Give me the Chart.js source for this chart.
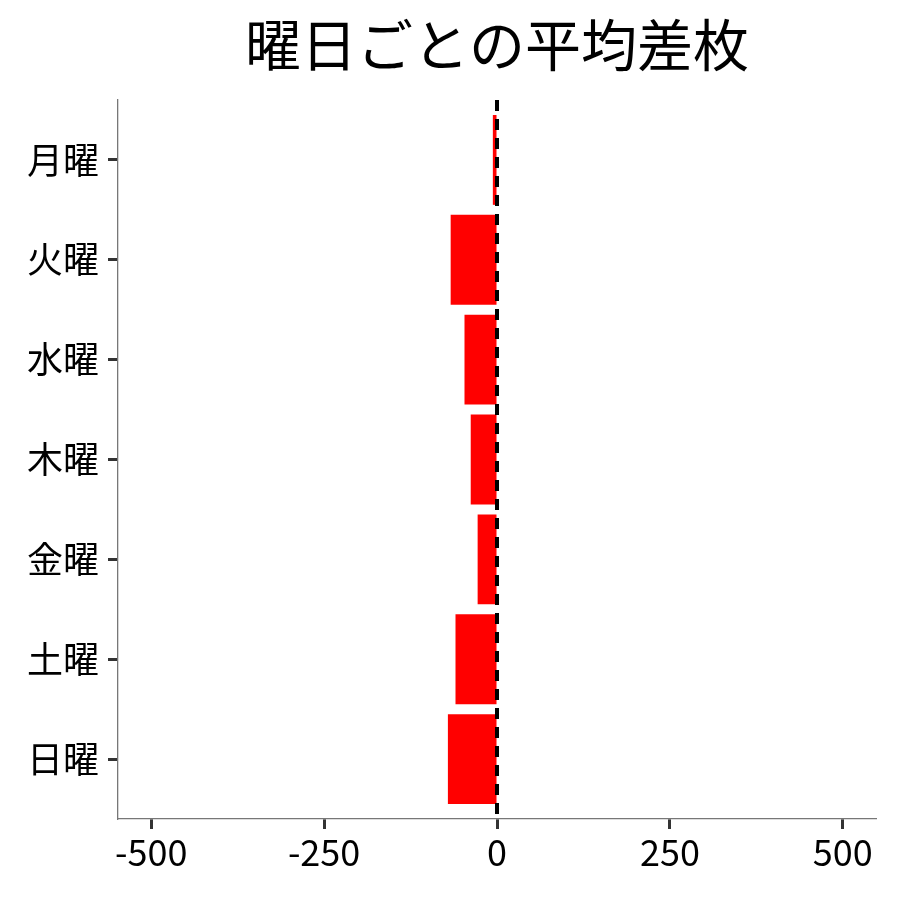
<!DOCTYPE html>
<html>
<head>
<meta charset="utf-8">
<script src="https://cdn.jsdelivr.net/npm/chart.js@4"></script>
<style>
  html, body { margin: 0; padding: 0; background: #fff; }
  #wrap { width: 900px; height: 900px; }
</style>
</head>
<body>
<div id="wrap"><canvas id="my-bar"></canvas></div>
<script>
// data
const days = ["月曜", "火曜", "水曜", "木曜", "金曜", "土曜", "日曜"]
const avgDiff = [-6, -67, -47, -38, -28, -60, -71]
const xTicks = [-500, -250, 0, 250, 500]
const titleText = "曜日ごとの平均差枚"

const FONT = "'Noto Sans CJK JP', 'Noto Sans', sans-serif"

// dashed line at zero + centred title over the panel
const extras = {
  id: "extras",
  afterDatasetsDraw(chart) {
    const ctx = chart.ctx
    const area = chart.chartArea
    const x0 = chart.scales.x.getPixelForValue(0)
    ctx.save()
    ctx.strokeStyle = "#000"
    ctx.lineWidth = 4
    ctx.setLineDash([11, 8])
    ctx.beginPath()
    ctx.moveTo(x0, area.top)
    ctx.lineTo(x0, area.bottom)
    ctx.stroke()
    ctx.restore()
  },
  afterDraw(chart) {
    const ctx = chart.ctx
    const area = chart.chartArea
    ctx.save()
    ctx.fillStyle = "#000"
    ctx.font = "56px " + FONT
    ctx.textAlign = "center"
    ctx.textBaseline = "middle"
    ctx.fillText(titleText, (area.left + area.right) / 2, 45)
    ctx.restore()
  }
}

const myBar = document.getElementById("my-bar")
let barChart = new Chart(myBar, {
  type: "bar",
  data: {
    datasets: [{
      label: "",
      data: days.map((d, i) => ({ x: avgDiff[i], y: i + 1 })),
      backgroundColor: "#ff0000",
      borderWidth: 0,
      categoryPercentage: 1,
      barPercentage: 0.9
    }]
  },
  options: {
    indexAxis: "y",
    responsive: true,
    maintainAspectRatio: false,
    animation: false,
    layout: { padding: { top: 100, right: 24, left: 0, bottom: 0 } },
    plugins: { legend: { display: false }, tooltip: { enabled: false }, title: { display: false } },
    scales: {
      x: {
        type: "linear",
        min: -548,
        max: 548,
        afterBuildTicks: s => { s.ticks = xTicks.map(v => ({ value: v })) },
        afterFit: s => { s.height = 81 },
        grid: { display: true, drawOnChartArea: false, drawTicks: true, tickLength: 10, tickWidth: 3, tickColor: "#333" },
        border: { display: true, color: "#777", width: 1.3 },
        ticks: { color: "#000", font: { family: FONT, size: 36 }, padding: 2, maxRotation: 0 }
      },
      y: {
        type: "linear",
        reverse: true,
        offset: false,
        min: 0.4,
        max: 7.6,
        afterBuildTicks: s => { s.ticks = days.map((d, i) => ({ value: i + 1 })) },
        afterFit: s => { s.width = 118 },
        grid: { display: true, offset: false, drawOnChartArea: false, drawTicks: true, tickLength: 10, tickWidth: 3, tickColor: "#333" },
        border: { display: true, color: "#777", width: 1.3 },
        ticks: {
          color: "#000",
          font: { family: FONT, size: 36 },
          padding: 9,
          callback: v => days[Math.round(v) - 1]
        }
      }
    }
  },
  plugins: [extras]
})
</script>
</body>
</html>
